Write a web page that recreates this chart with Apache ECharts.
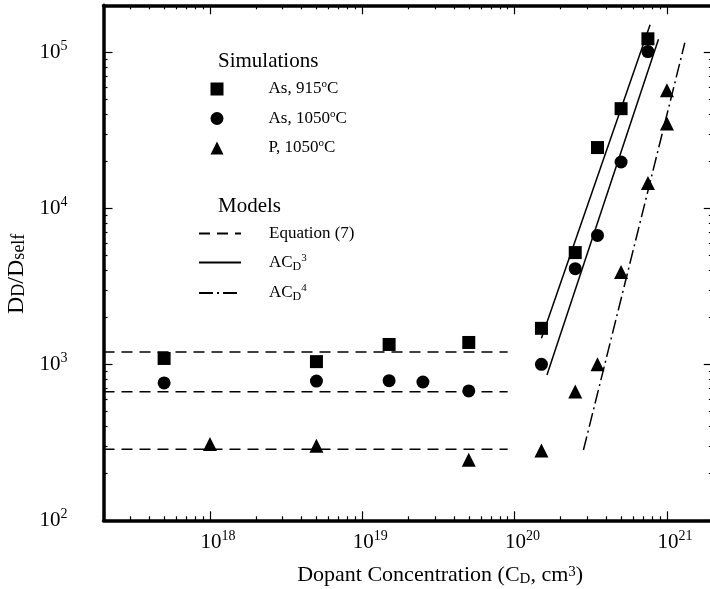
<!DOCTYPE html>
<html><head><meta charset="utf-8">
<script src="https://cdn.jsdelivr.net/npm/echarts@6/dist/echarts.min.js"></script>
<style>html,body{margin:0;padding:0;background:#fff}#c{width:710px;height:589px}</style>
</head><body><div id="c"></div>
<script>
// ---- axis ticks ----
const xMajor = [1e18, 1e19, 1e20, 1e21];
const yMajor = [1e2, 1e3, 1e4, 1e5];
const xMinor = [];
[1e17, 1e18, 1e19, 1e20, 1e21].forEach(d => { for (let k = 2; k <= 9; k++) xMinor.push(k * d); });
const yMinor = [];
[1e2, 1e3, 1e4, 1e5].forEach(d => { for (let k = 2; k <= 9; k++) yMinor.push(k * d); });

// ---- simulations ----
const as915X = [5e17, 5e18, 1.5e19, 5e19, 1.5e20, 2.5e20, 3.5e20, 5e20, 7.5e20];
const as915Y = [1090, 1040, 1340, 1380, 1700, 5200, 24500, 43500, 122000];
const as1050X = [5e17, 5e18, 1.5e19, 2.5e19, 5e19, 1.5e20, 2.5e20, 3.5e20, 5e20, 7.5e20];
const as1050Y = [760, 780, 785, 770, 675, 1000, 4100, 6700, 19800, 101000];
const p1050X = [1e18, 5e18, 5e19, 1.5e20, 2.5e20, 3.5e20, 5e20, 7.5e20, 1e21, 1e21];
const p1050Y = [308, 300, 244, 280, 670, 1000, 3900, 14500, 35000, 57000];

// ---- models ----
const eq7X = [2e17, 9e19];
const eq7Levels = [1200, 667, 285];
const ac3UpperX = [1.5e20, 7.75e20];
const ac3UpperY = [1470, 150000];
const ac3LowerX = [1.63e20, 8.8e20];
const ac3LowerY = [853, 121000];
const ac4X = [2.83e20, 1.31e21];
const ac4Y = [282, 115000];

const names = {
  s1: 'As, 915ºC', s2: 'As, 1050ºC', s3: 'P, 1050ºC',
  m1: 'Equation (7)', m2: 'ACD3', m3: 'ACD4'
};

const FONT = '"Liberation Serif", "DejaVu Serif", serif';
const zip = (xs, ys) => xs.map((x, i) => [x, ys[i]]);

const chart = echarts.init(document.getElementById('c'));

const tickRich = {
  b: { fontSize: 21, fontFamily: FONT, color: '#000', lineHeight: 26 },
  s: { fontSize: 14, fontFamily: FONT, color: '#000', lineHeight: 14, verticalAlign: 'top' }
};
const expLabel = v => '{b|10}{s|' + Math.round(Math.log10(v)) + '}';

function logAxis(pos, ticks, len, main, min, max, extra) {
  const a = {
    type: 'log', logBase: 10, min: min, max: max, position: pos,
    gridIndex: 0,
    axisLine: { show: main, lineStyle: { color: '#000', width: 3.5 } },
    axisTick: { show: true, inside: true, length: len, customValues: ticks, lineStyle: { color: '#000', width: 1.2 } },
    axisLabel: { show: false },
    splitLine: { show: false },
    minorTick: { show: false }
  };
  return Object.assign(a, extra || {});
}

const seriesLegendText = {
  fontFamily: FONT, fontSize: 17, color: '#000',
  rich: {
    t: { fontFamily: FONT, fontSize: 17, color: '#000', lineHeight: 20 },
    o: { fontFamily: FONT, fontSize: 11, color: '#000', lineHeight: 12, verticalAlign: 'top' },
    d: { fontFamily: FONT, fontSize: 12, color: '#000', lineHeight: 12, verticalAlign: 'bottom' }
  }
};
function legendFmt(name) {
  if (name === names.m2) return '{t|AC}{d|D}{o|3}';
  if (name === names.m3) return '{t|AC}{d|D}{o|4}';
  const parts = name.split('º');
  if (parts.length === 2) return '{t|' + parts[0] + '}{o|o}{t|' + parts[1] + '}';
  return '{t|' + name + '}';
}

const option = {
  animation: false,
  backgroundColor: '#fff',
  grid: { left: 103.5, top: 5.3, width: 609.3, height: 515, containLabel: false, outerBoundsMode: 'none' },
  xAxis: [
    logAxis('bottom', xMajor, 9, true, 2e17, 2e21, {
      axisLabel: {
        show: true, customValues: xMajor, margin: 9, padding: [0, 0, 0, 16],
        formatter: expLabel, rich: tickRich
      },
      name: 'Dopant Concentration (C{sub|D}, cm{sup|3})',
      nameLocation: 'middle', nameGap: 44,
      nameTextStyle: {
        fontFamily: FONT, fontSize: 22, color: '#000', padding: [0, 0, 0, 64],
        rich: {
          sub: { fontFamily: FONT, fontSize: 15, color: '#000', lineHeight: 15, verticalAlign: 'bottom' },
          sup: { fontFamily: FONT, fontSize: 15, color: '#000', lineHeight: 15, verticalAlign: 'top' }
        }
      }
    }),
    logAxis('bottom', xMinor, 4, false, 2e17, 2e21),
    logAxis('top', xMajor, 9, true, 2e17, 2e21),
    logAxis('top', xMinor, 4, false, 2e17, 2e21)
  ],
  yAxis: [
    logAxis('left', yMajor, 9, true, 100, 2e5, {
      axisLabel: {
        show: true, customValues: yMajor, margin: 36,
        formatter: expLabel, rich: tickRich
      },
      name: 'D{sub|D}/D{sub|self}',
      nameLocation: 'middle', nameGap: 62, nameRotate: 90,
      nameTextStyle: {
        fontFamily: FONT, fontSize: 24, color: '#000', padding: [0, 22, 0, 0],
        rich: {
          sub: { fontFamily: FONT, fontSize: 18, color: '#000', lineHeight: 16, verticalAlign: 'bottom' }
        }
      }
    }),
    logAxis('left', yMinor, 4, false, 100, 2e5),
    logAxis('right', yMajor, 9, true, 100, 2e5),
    logAxis('right', yMinor, 4, false, 100, 2e5)
  ],
  legend: [
    {
      data: [names.s1, names.s2, names.s3],
      orient: 'vertical', left: 205.5, top: 74, itemWidth: 13, itemHeight: 13, itemGap: 11,
      textStyle: Object.assign({ padding: [0, 0, 0, 40] }, seriesLegendText),
      formatter: legendFmt, selectedMode: false
    },
    {
      data: [names.m1, names.m2, names.m3],
      orient: 'vertical', left: 193, top: 220, itemWidth: 42, itemHeight: 14, itemGap: 10.5,
      itemStyle: { opacity: 0 },
      textStyle: Object.assign({ padding: [0, 0, 0, 23] }, seriesLegendText),
      formatter: legendFmt, selectedMode: false
    }
  ],
  graphic: [
    { type: 'text', left: 218, top: 51, style: { text: 'Simulations', font: '21px ' + FONT, fill: '#000' } },
    { type: 'text', left: 218, top: 196, style: { text: 'Models', font: '21px ' + FONT, fill: '#000' } }
  ],
  series: [
    { name: names.s1, type: 'scatter', symbol: 'rect', symbolSize: 13, itemStyle: { color: '#000', opacity: 1 }, data: zip(as915X, as915Y), z: 5 },
    { name: names.s2, type: 'scatter', symbol: 'circle', symbolSize: 13, itemStyle: { color: '#000', opacity: 1 }, data: zip(as1050X, as1050Y), z: 5 },
    { name: names.s3, type: 'scatter', symbol: 'triangle', symbolSize: 14, itemStyle: { color: '#000', opacity: 1 }, data: zip(p1050X, p1050Y), z: 5 }
  ].concat(eq7Levels.map(lv => ({
    name: names.m1, type: 'line', showSymbol: false, symbol: 'none', color: '#000',
    lineStyle: { color: '#000', width: 1.5, type: [11, 7] },
    data: eq7X.map(x => [x, lv])
  }))).concat([
    { name: names.m2, type: 'line', showSymbol: false, symbol: 'none', color: '#000',
      lineStyle: { color: '#000', width: 1.5, type: 'solid' }, data: zip(ac3UpperX, ac3UpperY) },
    { name: names.m2, type: 'line', showSymbol: false, symbol: 'none', color: '#000',
      lineStyle: { color: '#000', width: 1.5, type: 'solid' }, data: zip(ac3LowerX, ac3LowerY) },
    { name: names.m3, type: 'line', showSymbol: false, symbol: 'none', color: '#000',
      lineStyle: { color: '#000', width: 1.5, type: [14, 4, 2, 4] }, data: zip(ac4X, ac4Y) }
  ])
};
chart.setOption(option);
</script>
</body></html>
